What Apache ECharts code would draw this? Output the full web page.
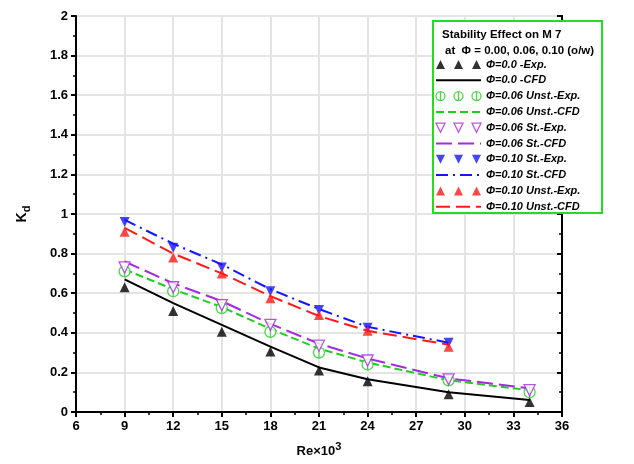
<!DOCTYPE html>
<html>
<head>
<meta charset="utf-8">
<script src="https://cdn.jsdelivr.net/npm/echarts@6/dist/echarts.min.js"></script>
<style>
  html, body { margin: 0; padding: 0; background: #fff; }
  #chart { width: 634px; height: 464px; }
</style>
</head>
<body>
<div id="chart"></div>
<script>
// Reynolds number (x10^3) at which each case was evaluated
const re = [9, 12, 15, 18, 21, 24, 29, 34];
const re10 = [9, 12, 15, 18, 21, 24, 29];

// Drag reduction coefficient Kd
const phi000Exp = [0.63, 0.51, 0.405, 0.305, 0.21, 0.155, 0.09, 0.05];
const phi000Cfd = [0.67, 0.55, 0.44, 0.33, 0.225, 0.165, 0.10, 0.06];
const phi006UnstExp = [0.71, 0.61, 0.525, 0.405, 0.30, 0.24, 0.16, 0.10];
const phi006UnstCfd = [0.72, 0.62, 0.53, 0.42, 0.32, 0.25, 0.16, 0.11];
const phi006StExp = [0.73, 0.63, 0.54, 0.44, 0.335, 0.26, 0.165, 0.11];
const phi006StCfd = [0.76, 0.65, 0.56, 0.445, 0.345, 0.27, 0.17, 0.12];
const phi010StExp = [0.96, 0.83, 0.73, 0.61, 0.515, 0.425, 0.35];
const phi010StCfd = [0.97, 0.85, 0.745, 0.62, 0.52, 0.43, 0.35];
const phi010UnstExp = [0.91, 0.78, 0.70, 0.575, 0.49, 0.41, 0.33];
const phi010UnstCfd = [0.93, 0.80, 0.70, 0.585, 0.485, 0.41, 0.34];

const xTicks = [6, 9, 12, 15, 18, 21, 24, 27, 30, 33, 36];
const yTicks = [0, 0.2, 0.4, 0.6, 0.8, 1, 1.2, 1.4, 1.6, 1.8, 2];

const names = [
  'Φ=0.0 -Exp.', 'Φ=0.0 -CFD',
  'Φ=0.06 Unst.-Exp.', 'Φ=0.06 Unst.-CFD',
  'Φ=0.06 St.-Exp.', 'Φ=0.06 St.-CFD',
  'Φ=0.10 St.-Exp.', 'Φ=0.10 St.-CFD',
  'Φ=0.10 Unst.-Exp.', 'Φ=0.10 Unst.-CFD'
];

const pairs = (xs, ys) => ys.map((y, i) => [xs[i], y]);

// Marker shapes
const UP = 'path://M5,0L10,10L0,10Z';
const DOWN = 'path://M0,0L10,0L5,10Z';
const CIRC = 'path://M0,5a5,5 0 1,0 10,0a5,5 0 1,0 -10,0M5,0L5,10';
const UP3 = 'path://M5,0L10,10L0,10ZM25,0L30,10L20,10ZM45,0L50,10L40,10Z';
const DOWN3 = 'path://M0,0L10,0L5,10ZM20,0L30,0L25,10ZM40,0L50,0L45,10Z';
const CIRC3 = 'path://M0,5a5,5 0 1,0 10,0a5,5 0 1,0 -10,0M5,0L5,10M20,5a5,5 0 1,0 10,0a5,5 0 1,0 -10,0M25,0L25,10M40,5a5,5 0 1,0 10,0a5,5 0 1,0 -10,0M45,0L45,10';

const BLACK = '#000000', GREEN = '#22cc22', PURPLE = '#a52be0', BLUE = '#1515ff', RED = '#ff1a1a';

function expSeries(name, xs, ys, symbol, color, hollow) {
  return {
    name, type: 'scatter', data: pairs(xs, ys), symbol, symbolSize: hollow ? 11 : 10, z: 4,
    itemStyle: hollow ? { color: '#ffffff', borderColor: color, borderWidth: 1.3 } : { color }
  };
}
function cfdSeries(name, xs, ys, color, type) {
  return {
    name, type: 'line', data: pairs(xs, ys), symbol: 'none', z: 3,
    itemStyle: { color },
    lineStyle: { color, width: 2, type }
  };
}

const chart = echarts.init(document.getElementById('chart'));
const labelFont = { fontFamily: 'Liberation Sans, Arial', fontWeight: 'bold', fontSize: 13, color: '#000' };
const lineOnly = { opacity: 0 };

chart.setOption({
  animation: false,
  backgroundColor: '#ffffff',
  grid: { left: 76, right: 72, top: 16, bottom: 52, show: true, borderColor: '#000', borderWidth: 2 },
  xAxis: {
    type: 'value', min: 6, max: 36, interval: 3,
    name: 'Re×10{sup|3}', nameLocation: 'middle', nameGap: 29,
    nameTextStyle: Object.assign({}, labelFont, { rich: { sup: Object.assign({}, labelFont, { fontSize: 11, padding: [0, 0, 10, 0] }) } }),
    axisLine: { lineStyle: { color: '#000', width: 2 } },
    axisTick: { inside: false, length: 5, lineStyle: { color: '#000', width: 2 } },
    minorTick: { show: true, splitNumber: 2, length: 3, lineStyle: { color: '#000', width: 1.5 } },
    axisLabel: Object.assign({ margin: 8, formatter: v => xTicks.includes(v) ? String(v) : '' }, labelFont),
    splitLine: { show: true, lineStyle: { color: '#e4e4e4', width: 2 } }
  },
  yAxis: [{
    type: 'value', min: 0, max: 2, interval: 0.2,
    name: 'K{sub|d}', nameLocation: 'middle', nameGap: 44, nameRotate: 90,
    nameTextStyle: Object.assign({}, labelFont, { fontSize: 14, rich: { sub: Object.assign({}, labelFont, { fontSize: 11, padding: [8, 0, 0, 0] }) } }),
    axisLine: { lineStyle: { color: '#000', width: 2 } },
    axisTick: { inside: false, length: 5, lineStyle: { color: '#000', width: 2 } },
    minorTick: { show: true, splitNumber: 2, length: 3, lineStyle: { color: '#000', width: 1.5 } },
    axisLabel: Object.assign({ margin: 8, formatter: v => { const t = yTicks.find(k => Math.abs(k - v) < 1e-6); return t === undefined ? '' : String(t); } }, labelFont),
    splitLine: { show: true, lineStyle: { color: '#e4e4e4', width: 2 } }
  }, {
    type: 'value', min: 0, max: 2, interval: 0.2, position: 'right',
    axisLine: { show: true, lineStyle: { color: '#000', width: 2 } },
    axisTick: { show: true, inside: true, length: 5, lineStyle: { color: '#000', width: 2 } },
    minorTick: { show: true, splitNumber: 2, length: 3, lineStyle: { color: '#000', width: 1.5 } },
    axisLabel: { show: false }, splitLine: { show: false }
  }],
  legend: {
    orient: 'vertical', left: 435, top: 59, padding: 0, itemWidth: 45, itemHeight: 9, itemGap: 4.8,
    itemStyle: { borderWidth: 1.3 },
    textStyle: { fontFamily: 'Liberation Sans, Arial', fontSize: 11, fontStyle: 'italic', fontWeight: 'bold', color: '#000' },
    z: 6,
    data: [
      { name: names[0], icon: UP3 },
      { name: names[1], itemStyle: lineOnly },
      { name: names[2], icon: CIRC3 },
      { name: names[3], itemStyle: lineOnly },
      { name: names[4], icon: DOWN3 },
      { name: names[5], itemStyle: lineOnly },
      { name: names[6], icon: DOWN3 },
      { name: names[7], itemStyle: lineOnly },
      { name: names[8], icon: UP3 },
      { name: names[9], itemStyle: lineOnly }
    ]
  },
  graphic: [
    { type: 'rect', z: 5, shape: { x: 433, y: 21, width: 169, height: 192 }, style: { fill: '#ffffff', stroke: '#22dd22', lineWidth: 2 } },
    { type: 'text', z: 6, left: 442, top: 29, style: { text: 'Stability Effect on M 7', font: 'bold 11.5px Liberation Sans, Arial', fill: '#000' } },
    { type: 'text', z: 6, left: 445, top: 45, style: { text: 'at  Φ = 0.00, 0.06, 0.10 (o/w)', font: 'bold 11.5px Liberation Sans, Arial', fill: '#000' } }
  ],
  series: [
    expSeries(names[0], re, phi000Exp, UP, BLACK, false),
    cfdSeries(names[1], re, phi000Cfd, BLACK, 'solid'),
    expSeries(names[2], re, phi006UnstExp, CIRC, GREEN, true),
    cfdSeries(names[3], re, phi006UnstCfd, GREEN, [8, 4]),
    expSeries(names[4], re, phi006StExp, DOWN, PURPLE, true),
    cfdSeries(names[5], re, phi006StCfd, PURPLE, [16, 6]),
    expSeries(names[6], re10, phi010StExp, DOWN, BLUE, false),
    cfdSeries(names[7], re10, phi010StCfd, BLUE, [12, 5, 2, 5]),
    expSeries(names[8], re10, phi010UnstExp, UP, RED, false),
    cfdSeries(names[9], re10, phi010UnstCfd, RED, [14, 6])
  ]
});
</script>
</body>
</html>
